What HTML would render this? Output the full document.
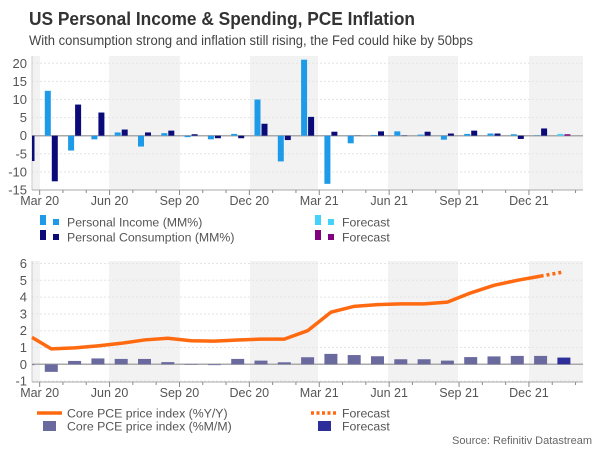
<!DOCTYPE html>
<html><head><meta charset="utf-8"><style>
body{margin:0;background:#fff;width:600px;height:450px;overflow:hidden;font-family:"Liberation Sans",sans-serif}
</style></head><body>
<svg width="600" height="450" xmlns="http://www.w3.org/2000/svg" font-family="Liberation Sans, sans-serif">
<text x="29" y="25" font-size="18" font-weight="bold" fill="#333" textLength="386" lengthAdjust="spacingAndGlyphs">US Personal Income &amp; Spending, PCE Inflation</text>
<text x="29" y="45" font-size="13.5" fill="#444" textLength="444" lengthAdjust="spacingAndGlyphs">With consumption strong and inflation still rising, the Fed could hike by 50bps</text>
<g id="top"></g><g id="bot"></g>
<text x="592" y="444" font-size="11" fill="#666" text-anchor="end">Source: Refinitiv Datastream</text>
</svg>
<script>
const months = 24;
const tickLabels = ["Mar 20","Jun 20","Sep 20","Dec 20","Mar 21","Jun 21","Sep 21","Dec 21"];
const income = [-2,12.4,-4.1,-1.0,0.9,-3.0,0.7,-0.4,-1.0,0.5,10.0,-7.1,21.0,-13.3,-2.1,0.2,1.2,0.3,-1.1,0.5,0.6,0.4,0.1,0.5];
const consumption = [-7,-12.6,8.6,6.4,1.7,0.9,1.4,0.4,-0.7,-0.7,3.3,-1.2,5.2,1.1,0.05,1.2,-0.1,1.1,0.6,1.4,0.6,-0.9,2.0,0.4];
const corePceYoY = [1.6,0.92,0.98,1.1,1.25,1.45,1.55,1.4,1.38,1.45,1.5,1.5,2.0,3.1,3.45,3.55,3.6,3.6,3.7,4.25,4.7,5.0,5.25,5.5];
const corePceMoM = [-0.05,-0.45,0.2,0.35,0.32,0.32,0.13,0.01,-0.05,0.32,0.22,0.12,0.42,0.62,0.55,0.48,0.3,0.3,0.22,0.43,0.47,0.5,0.5,0.4];
const topTicks = [20,15,10,5,0,-5,-10,-15];
const botTicks = [6,5,4,3,2,1,0,-1];
const NS="http://www.w3.org/2000/svg";
const L=32,R=583;
const xC=i=>28+i*23.3;
function mk(p,t,a){const e=document.createElementNS(NS,t);for(const k in a)e.setAttribute(k,a[k]);p.appendChild(e);return e;}
function frame(g,top,bot,yf,ticks,name){
  mk(g,'rect',{x:L,y:top,width:R-L,height:bot-top,fill:'#fff'});
  const bands=[[L,40],[109,180],[250,318],[388,458],[529,R]];
  bands.forEach(b=>{const r=mk(g,'rect',{x:b[0],y:top,width:b[1]-b[0],height:bot-top,fill:'#f2f2f2'});

});
  ticks.forEach(v=>{const y=yf(v);
    mk(g,'line',{x1:L,x2:R,y1:y,y2:y,stroke:v===0?'#aaa':'#e4e4e4','stroke-dasharray':v===0?'':'2,2','stroke-width':v===0?1.5:1});
    const t=mk(g,'text',{x:27,y:y+4.5,'font-size':13,fill:'#555','text-anchor':'end'});t.textContent=v;

});
  mk(g,'line',{x1:L,x2:L,y1:top,y2:bot,stroke:'#ccc'});
  mk(g,'line',{x1:L,x2:R,y1:bot,y2:bot,stroke:'#aaa'});
  for(let i=0;i<months;i++){const x=xC(i)+11.65;const major=(i%3===0);
    mk(g,'line',{x1:x,x2:x,y1:bot,y2:bot+(major?5:3),stroke:'#888'});}
  tickLabels.forEach((s,k)=>{const t=mk(g,'text',{x:xC(k*3)+11.65,y:bot+15,'font-size':12.5,fill:'#555','text-anchor':'middle'});t.textContent=s;

});
}
const gt=document.getElementById('top');
const yT=v=>135.7-v*3.62;
frame(gt,56,190,yT,topTicks,'top');
for(let i=0;i<months;i++){
  const f=i===months-1;
  const a=income[i],b=consumption[i];
  const r1=mk(gt,'rect',{x:Math.max(L,xC(i)-6.5),y:Math.min(yT(a),yT(0)),width:xC(i)-0.5-Math.max(L,xC(i)-6.5),height:Math.abs(yT(a)-yT(0)),fill:f?'#45d2fa':'#1e9be8'});
  
  
  const r2=mk(gt,'rect',{x:Math.max(L,xC(i)+0.5),y:Math.min(yT(b),yT(0)),width:xC(i)+6.5-Math.max(L,xC(i)+0.5),height:Math.abs(yT(b)-yT(0)),fill:f?'#800080':'#0a0a78'});
  
  
}
function leg(g,x,y,c1,c2,txt,name){
  mk(g,'rect',{x:x,y:y-7,width:6,height:10,fill:c1});
  mk(g,'rect',{x:x+13,y:y-3,width:6,height:6,fill:c2});
  const t=mk(g,'text',{x:x+27,y:y+4.5,'font-size':12.3,fill:'#555'});t.textContent=txt;
  
  
}
leg(gt,40,222,'#1e9be8','#1e9be8','Personal Income (MM%)','legend-income');
leg(gt,40,237,'#0a0a78','#0a0a78','Personal Consumption (MM%)','legend-consumption');
leg(gt,315,222,'#45d2fa','#45d2fa','Forecast','legend-income-forecast');
leg(gt,315,237,'#800080','#800080','Forecast','legend-consumption-forecast');
const gb=document.getElementById('bot');
const yB=v=>364.3-v*16.8;
frame(gb,261,382,yB,botTicks,'bottom');
for(let i=0;i<months;i++){
  const v=corePceMoM[i];const x0=Math.max(L,xC(i)-6.5);
  const r=mk(gb,'rect',{x:x0,y:Math.min(yB(v),yB(0)),width:xC(i)+6.5-x0,height:Math.max(0.5,Math.abs(yB(v)-yB(0))),fill:i===months-1?'#2e2e9a':'#6a6a9f'});
  
  
}
let d='';
for(let i=0;i<months-1;i++){d+=(i?'L':'M')+(i===0?L:xC(i))+','+yB(corePceYoY[i]);}
const ln=mk(gb,'path',{d:d,fill:'none',stroke:'#ff6a10','stroke-width':3.5,'stroke-linejoin':'round'});


const fl=mk(gb,'path',{d:'M'+xC(months-2)+','+yB(corePceYoY[months-2])+'L'+xC(months-1)+','+yB(corePceYoY[months-1]),stroke:'#ff6a10','stroke-width':3.5,'stroke-dasharray':'3,3',fill:'none'});


mk(gb,'line',{x1:37,x2:62,y1:413,y2:413,stroke:'#ff6a10','stroke-width':3.5});
let t=mk(gb,'text',{x:67,y:417.5,'font-size':12.3,fill:'#555'});t.textContent='Core PCE price index (%Y/Y)';


mk(gb,'rect',{x:43,y:421,width:13,height:10,fill:'#6a6a9f'});
t=mk(gb,'text',{x:67,y:430.5,'font-size':12.3,fill:'#555'});t.textContent='Core PCE price index (%M/M)';


mk(gb,'line',{x1:311,x2:338,y1:413,y2:413,stroke:'#ff6a10','stroke-width':3.5,'stroke-dasharray':'3,2.5'});
t=mk(gb,'text',{x:342,y:417.5,'font-size':12.3,fill:'#555'});t.textContent='Forecast';


mk(gb,'rect',{x:318,y:421,width:13,height:10,fill:'#2e2e9a'});
t=mk(gb,'text',{x:342,y:430.5,'font-size':12.3,fill:'#555'});t.textContent='Forecast';


</script>
</body></html>
